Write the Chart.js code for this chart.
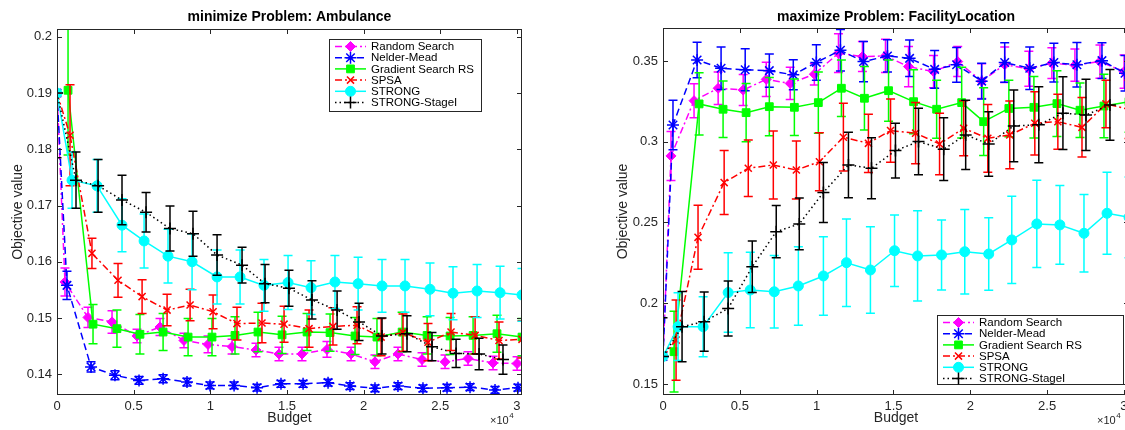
<!DOCTYPE html>
<html lang="en">
<head>
<meta charset="UTF-8">
<title>Ambulance / FacilityLocation</title>
<script src="https://cdn.jsdelivr.net/npm/chart.js"></script>
<style>
  html, body { margin: 0; padding: 0; overflow: hidden; background: #fff; width: 1125px; height: 430px; }
  #leftChart { position: absolute; left: 0; top: 0; }
  #rightChart { position: absolute; left: 580px; top: 0; }
</style>
</head>
<body>
<canvas id="leftChart" width="560" height="430"></canvas>
<canvas id="rightChart" width="580" height="430"></canvas>
<script>
// ---- labels / ticks ----
const seriesNames = ['Random Search', 'Nelder-Mead', 'Gradient Search RS', 'SPSA', 'STRONG', 'STRONG-StageI'];
const xAxisTitle = 'Budget';
const yAxisTitle = 'Objective value';
const xTickValues = [0, 5000, 10000, 15000, 20000, 25000, 30000];
const ambulanceYTicks = [0.14, 0.15, 0.16, 0.17, 0.18, 0.19, 0.2];
const facilityYTicks = [0.15, 0.2, 0.25, 0.3, 0.35];

// ---- budgets (same checkpoints in both problems) ----
const budgetRandom   = [0, 520, 2020, 3590, 5220, 6720, 8280, 9850, 11420, 12980, 14480, 15980, 17610, 19180, 20740, 22240, 23810, 25310, 26810, 28440, 30010];
const budgetNelder   = [0, 650, 2220, 3780, 5350, 6920, 8480, 9980, 11550, 13050, 14610, 16050, 17680, 19110, 20740, 22240, 23870, 25440, 26940, 28570, 30070];
const budgetGradient = [720, 2350, 3910, 5410, 6920, 8550, 10110, 11610, 13110, 14680, 16310, 17810, 19440, 20870, 22510, 24140, 25640, 27140, 28700, 30330];
const budgetSPSA     = [0, 850, 2280, 3980, 5550, 7180, 8680, 10180, 11740, 13370, 14810, 16440, 18000, 19570, 21140, 22570, 24200, 25700, 27270, 28830, 30330];
const budgetStrong   = [0, 980, 2610, 4240, 5680, 7240, 8810, 10440, 11940, 13500, 15070, 16570, 18130, 19640, 21200, 22700, 24330, 25830, 27400, 28900, 30330];
const budgetStage    = [0, 1240, 2680, 4240, 5810, 7370, 8870, 10440, 12070, 13570, 15130, 16630, 18270, 19700, 21200, 22830, 24460, 26030, 27530, 29090];

// ---- minimize Problem: Ambulance ----
const ambRandom   = [0.19, 0.1564, 0.1501, 0.1493, 0.1468, 0.1484, 0.1460, 0.1453, 0.1449, 0.1443, 0.1436, 0.1436, 0.1444, 0.1436, 0.1422, 0.1436, 0.1426, 0.1422, 0.1428, 0.1420, 0.1419];
const ambNelder   = [0.19, 0.1558, 0.1413, 0.1398, 0.1389, 0.1392, 0.1386, 0.1380, 0.1380, 0.1376, 0.1383, 0.1383, 0.1385, 0.1379, 0.1375, 0.1379, 0.1375, 0.1376, 0.1377, 0.1372, 0.1376];
const ambGradient = [0.1905, 0.1489, 0.1481, 0.1471, 0.1475, 0.1466, 0.1466, 0.1469, 0.1475, 0.1470, 0.1475, 0.1474, 0.1468, 0.1466, 0.1475, 0.1469, 0.1468, 0.1469, 0.1472, 0.1466];
const ambSPSA     = [0.19, 0.1825, 0.1615, 0.1567, 0.1538, 0.1514, 0.1523, 0.1511, 0.1490, 0.1491, 0.1489, 0.1481, 0.1485, 0.1487, 0.1466, 0.1474, 0.1457, 0.1475, 0.1469, 0.1460, 0.1462];
const ambStrong   = [0.19, 0.1745, 0.1735, 0.1665, 0.1637, 0.1610, 0.1600, 0.1573, 0.1573, 0.1558, 0.1563, 0.1554, 0.1564, 0.1561, 0.1557, 0.1557, 0.1551, 0.1544, 0.1548, 0.1545, 0.1541];
const ambStage    = [0.19, 0.1745, 0.1735, 0.1710, 0.1688, 0.1659, 0.1650, 0.1612, 0.1594, 0.1561, 0.1553, 0.1532, 0.1514, 0.1493, 0.1468, 0.1472, 0.1449, 0.1437, 0.1436, 0.1426];

const ambRandomErr   = [0, 0.0025, 0.0018, 0.0020, 0.0012, 0.0015, 0.0013, 0.0015, 0.0013, 0.0012, 0.0012, 0.0012, 0.0014, 0.0012, 0.0012, 0.0012, 0.0012, 0.0012, 0.0012, 0.0012, 0.0012];
const ambNelderErr   = [0, 0.0025, 0.0009, 0.0008, 0.0007, 0.0007, 0.0007, 0.0006, 0.0006, 0.0006, 0.0006, 0.0006, 0.0006, 0.0006, 0.0006, 0.0006, 0.0006, 0.0006, 0.0006, 0.0006, 0.0006];
const ambGradientErr = [0.0115, 0.0035, 0.0033, 0.0035, 0.0033, 0.0033, 0.0033, 0.0033, 0.0035, 0.0033, 0.0033, 0.0033, 0.0033, 0.0033, 0.0035, 0.0033, 0.0033, 0.0033, 0.0033, 0.0033];
const ambSPSAErr     = [0, 0.0090, 0.0027, 0.0030, 0.0030, 0.0028, 0.0028, 0.0030, 0.0029, 0.0035, 0.0032, 0.0033, 0.0033, 0.0033, 0.0033, 0.0033, 0.0033, 0.0033, 0.0033, 0.0033, 0.0033];
const ambStrongErr   = [0, 0.0050, 0.0047, 0.0047, 0.0048, 0.0048, 0.0050, 0.0048, 0.0048, 0.0046, 0.0048, 0.0048, 0.0047, 0.0047, 0.0047, 0.0047, 0.0047, 0.0047, 0.0047, 0.0047, 0.0047];
const ambStageErr    = [0.0115, 0.0050, 0.0047, 0.0044, 0.0035, 0.0040, 0.0040, 0.0036, 0.0032, 0.0034, 0.0032, 0.0034, 0.0034, 0.0033, 0.0032, 0.0032, 0.0025, 0.0025, 0.0028, 0.0026];

// ---- maximize Problem: FacilityLocation ----
const facRandom   = [0.167, 0.2912, 0.3254, 0.3331, 0.3320, 0.3386, 0.3361, 0.3418, 0.3548, 0.3527, 0.3531, 0.3465, 0.3434, 0.3496, 0.3375, 0.3477, 0.3452, 0.3486, 0.3474, 0.3496, 0.3434];
const facNelder   = [0.167, 0.3104, 0.3506, 0.3455, 0.3445, 0.3440, 0.3414, 0.3491, 0.3566, 0.3496, 0.3531, 0.3516, 0.3448, 0.3476, 0.3375, 0.3490, 0.3455, 0.3490, 0.3476, 0.3502, 0.3424];
const facGradient = [0.1700, 0.3234, 0.3201, 0.3180, 0.3217, 0.3213, 0.3242, 0.3331, 0.3269, 0.3316, 0.3248, 0.3201, 0.3242, 0.3124, 0.3206, 0.3213, 0.3236, 0.3195, 0.3221, 0.3248];
const facSPSA     = [0.167, 0.1772, 0.2408, 0.2747, 0.2836, 0.2856, 0.2825, 0.2876, 0.3028, 0.2990, 0.3069, 0.3053, 0.2986, 0.3083, 0.3021, 0.3042, 0.3114, 0.3124, 0.3089, 0.3234, 0.3200];
const facStrong   = [0.167, 0.1855, 0.1855, 0.2066, 0.2082, 0.2071, 0.2107, 0.2169, 0.2251, 0.2206, 0.2325, 0.2293, 0.2299, 0.2319, 0.2305, 0.2392, 0.2491, 0.2485, 0.2433, 0.2557, 0.2532];
const facStage    = [0.167, 0.1855, 0.1886, 0.1968, 0.2226, 0.2443, 0.2491, 0.2686, 0.2856, 0.2836, 0.2945, 0.3001, 0.2954, 0.3042, 0.2986, 0.3098, 0.3105, 0.3177, 0.3166, 0.3228];

const facRandomErr   = [0, 0.0152, 0.0105, 0.0100, 0.0096, 0.0106, 0.0100, 0.0067, 0.0120, 0.0093, 0.0103, 0.0124, 0.0100, 0.0093, 0.0108, 0.0110, 0.0108, 0.0095, 0.0100, 0.0103, 0.0103];
const facNelderErr   = [0, 0.0153, 0.0110, 0.0132, 0.0130, 0.0103, 0.0093, 0.0110, 0.0128, 0.0124, 0.0100, 0.0113, 0.0117, 0.0108, 0.0111, 0.0122, 0.0132, 0.0120, 0.0138, 0.0110, 0.0110];
const facGradientErr = [0.0250, 0.0193, 0.0175, 0.0180, 0.0180, 0.0175, 0.0190, 0.0175, 0.0196, 0.0190, 0.0198, 0.0180, 0.0219, 0.0210, 0.0175, 0.0190, 0.0203, 0.0169, 0.0196, 0.0190];
const facSPSAErr     = [0, 0.0248, 0.0198, 0.0198, 0.0175, 0.0210, 0.0180, 0.0180, 0.0210, 0.0180, 0.0196, 0.0190, 0.0190, 0.0170, 0.0210, 0.0210, 0.0196, 0.0170, 0.0184, 0.0147, 0.0180];
const facStrongErr   = [0, 0.0210, 0.0186, 0.0246, 0.0234, 0.0224, 0.0243, 0.0243, 0.0271, 0.0268, 0.0222, 0.0279, 0.0217, 0.0262, 0.0224, 0.0270, 0.0270, 0.0244, 0.0240, 0.0254, 0.0250];
const facStageErr    = [0.0240, 0.0217, 0.0183, 0.0170, 0.0160, 0.0162, 0.0160, 0.0186, 0.0203, 0.0189, 0.0169, 0.0206, 0.0194, 0.0214, 0.0200, 0.0222, 0.0235, 0.0225, 0.0220, 0.0219];

// ---- look ----
const FONT = '"Liberation Sans", Arial, sans-serif';
Chart.defaults.font.family = FONT;
Chart.defaults.font.size = 13;
Chart.defaults.color = '#262626';

const styles = [
  { color: '#ff00ff', dash: [7, 3, 2, 3], point: 'rectRot',  r: 5,   fill: true },
  { color: '#0000ff', dash: [7, 4],       point: 'star',     r: 6,   fill: false },
  { color: '#00ff00', dash: [],           point: 'rect',     r: 5.5, fill: true },
  { color: '#ff0000', dash: [7, 3, 2, 3], point: 'crossRot', r: 5,   fill: false },
  { color: '#00ffff', dash: [],           point: 'circle',   r: 5,   fill: true },
  { color: '#000000', dash: [1.5, 3],     point: 'cross',    r: 6,   fill: false }
];

function makeDatasets(budgets, values, errors) {
  return seriesNames.map((name, i) => ({
    label: name,
    data: budgets[i].map((b, j) => ({ x: b, y: values[i][j] })),
    err: errors[i],
    borderColor: styles[i].color,
    backgroundColor: styles[i].color,
    pointBackgroundColor: styles[i].fill ? styles[i].color : 'rgba(0,0,0,0)',
    pointBorderColor: styles[i].color,
    pointBorderWidth: styles[i].fill ? 1 : 1.5,
    pointStyle: styles[i].point,
    pointRadius: styles[i].r,
    borderWidth: 1.5,
    borderDash: styles[i].dash,
    tension: 0,
    order: seriesNames.length - i
  }));
}

// error bars drawn right after their own series
const errorBars = {
  id: 'errorBars',
  afterDatasetDraw(chart, args) {
    const ds = chart.data.datasets[args.index];
    if (!ds.err) return;
    const { ctx, chartArea: a, scales: { x, y } } = chart;
    ctx.save();
    ctx.beginPath();
    ctx.rect(a.left, a.top, a.right - a.left, a.bottom - a.top);
    ctx.clip();
    ctx.strokeStyle = ds.borderColor;
    ctx.lineWidth = 1.5;
    ctx.setLineDash([]);
    ds.data.forEach((p, i) => {
      const e = ds.err[i];
      if (!e) return;
      const px = x.getPixelForValue(p.x);
      const top = y.getPixelForValue(p.y + e);
      const bot = y.getPixelForValue(p.y - e);
      ctx.beginPath();
      ctx.moveTo(px, top); ctx.lineTo(px, bot);
      ctx.moveTo(px - 4.5, top); ctx.lineTo(px + 4.5, top);
      ctx.moveTo(px - 4.5, bot); ctx.lineTo(px + 4.5, bot);
      ctx.stroke();
    });
    ctx.restore();
  }
};

// matlab-like box with inward ticks on all sides
const axesBox = {
  id: 'axesBox',
  afterDatasetsDraw(chart) {
    const { ctx, chartArea: a, scales: { x, y } } = chart;
    ctx.save();
    ctx.strokeStyle = '#262626';
    ctx.lineWidth = 1;
    ctx.setLineDash([]);
    ctx.strokeRect(a.left + 0.5, a.top + 0.5, a.right - a.left - 1, a.bottom - a.top - 1);
    ctx.beginPath();
    x.ticks.forEach(t => {
      const p = Math.round(x.getPixelForValue(t.value)) + 0.5;
      ctx.moveTo(p, a.bottom); ctx.lineTo(p, a.bottom - 5);
      ctx.moveTo(p, a.top); ctx.lineTo(p, a.top + 5);
    });
    y.ticks.forEach(t => {
      const p = Math.round(y.getPixelForValue(t.value)) + 0.5;
      ctx.moveTo(a.left, p); ctx.lineTo(a.left + 5, p);
      ctx.moveTo(a.right, p); ctx.lineTo(a.right - 5, p);
    });
    ctx.stroke();
    ctx.restore();
  }
};

// title, axis titles, exponent and legend
const figureText = {
  id: 'figureText',
  afterDraw(chart, args, o) {
    const { ctx, chartArea: a } = chart;
    const cx = (a.left + a.right) / 2;
    ctx.save();
    ctx.textAlign = 'center';
    ctx.textBaseline = 'middle';
    ctx.fillStyle = '#000';
    ctx.font = 'bold 14px ' + FONT;
    ctx.fillText(o.title, cx, 17);

    ctx.fillStyle = '#262626';
    ctx.font = '14px ' + FONT;
    ctx.fillText(xAxisTitle, cx, 418);
    ctx.save();
    ctx.translate(o.ylabelX, (a.top + a.bottom) / 2);
    ctx.rotate(-Math.PI / 2);
    ctx.fillText(yAxisTitle, 0, 0);
    ctx.restore();

    ctx.textAlign = 'left';
    ctx.textBaseline = 'alphabetic';
    ctx.font = '11px ' + FONT;
    ctx.fillText('\u00d710', o.expX, 424);
    const w = ctx.measureText('\u00d710').width;
    ctx.font = '8px ' + FONT;
    ctx.fillText('4', o.expX + w + 0.5, 418);

    const L = o.legend;
    ctx.fillStyle = '#fff';
    ctx.fillRect(L.x, L.y, L.w, L.h);
    ctx.strokeStyle = '#262626';
    ctx.lineWidth = 1;
    ctx.strokeRect(L.x + 0.5, L.y + 0.5, L.w, L.h);
    chart.data.datasets.forEach((ds, i) => {
      const yy = L.y + 7.5 + i * 11.2;
      ctx.strokeStyle = ds.borderColor;
      ctx.lineWidth = 1.5;
      ctx.setLineDash(ds.borderDash);
      ctx.beginPath();
      ctx.moveTo(L.x + 6, yy);
      ctx.lineTo(L.x + 37, yy);
      ctx.stroke();
      ctx.setLineDash([]);
      ctx.fillStyle = ds.pointBackgroundColor;
      ctx.lineWidth = ds.pointBorderWidth;
      Chart.helpers.drawPoint(ctx, { pointStyle: ds.pointStyle, radius: ds.pointRadius, rotation: 0, borderWidth: ds.pointBorderWidth }, L.x + 21.5, yy);
      ctx.fillStyle = '#000';
      ctx.font = '11.5px ' + FONT;
      ctx.textAlign = 'left';
      ctx.textBaseline = 'middle';
      ctx.fillText(ds.label, L.x + 42, yy + 0.5);
    });
    ctx.restore();
  }
};

function makeChart(id, datasets, yTicks, yMin, yMax, frame, text) {
  return new Chart(document.getElementById(id), {
    type: 'line',
    data: { datasets },
    options: {
      responsive: false,
      animation: false,
      devicePixelRatio: 1,
      layout: { padding: frame.padding },
      plugins: {
        legend: { display: false },
        tooltip: { enabled: false },
        figureText: text
      },
      scales: {
        x: {
          type: 'linear', min: 0, max: 30330,
          grid: { display: false, drawTicks: false },
          border: { display: false },
          afterBuildTicks: s => { s.ticks = xTickValues.map(v => ({ value: v })); },
          afterFit: s => { s.height = 35; },
          ticks: { padding: 4, maxRotation: 0, autoSkip: false, callback: v => String(v / 10000) }
        },
        y: {
          type: 'linear', min: yMin, max: yMax,
          grid: { display: false, drawTicks: false },
          border: { display: false },
          afterBuildTicks: s => { s.ticks = yTicks.map(v => ({ value: v })); },
          afterFit: s => { s.width = frame.yWidth; },
          ticks: { padding: 5, autoSkip: false, callback: v => String(+v.toFixed(2)) }
        }
      }
    },
    plugins: [errorBars, axesBox, figureText]
  });
}

const budgets = [budgetRandom, budgetNelder, budgetGradient, budgetSPSA, budgetStrong, budgetStage];

makeChart('leftChart',
  makeDatasets(budgets,
    [ambRandom, ambNelder, ambGradient, ambSPSA, ambStrong, ambStage],
    [ambRandomErr, ambNelderErr, ambGradientErr, ambSPSAErr, ambStrongErr, ambStageErr]),
  ambulanceYTicks, 0.1363, 0.2014,
  { padding: { left: 0, top: 29, right: 38, bottom: 0 }, yWidth: 57 },
  { title: 'minimize Problem: Ambulance', ylabelX: 18, expX: 490,
    legend: { x: 329, y: 39, w: 152, h: 72 } });

makeChart('rightChart',
  makeDatasets(budgets,
    [facRandom, facNelder, facGradient, facSPSA, facStrong, facStage],
    [facRandomErr, facNelderErr, facGradientErr, facSPSAErr, facStrongErr, facStageErr]),
  facilityYTicks, 0.1432, 0.3704,
  { padding: { left: 0, top: 28, right: 31, bottom: 0 }, yWidth: 83 },
  { title: 'maximize Problem: FacilityLocation', ylabelX: 43, expX: 517,
    legend: { x: 357, y: 315, w: 186, h: 69 } });
</script>
</body>
</html>
